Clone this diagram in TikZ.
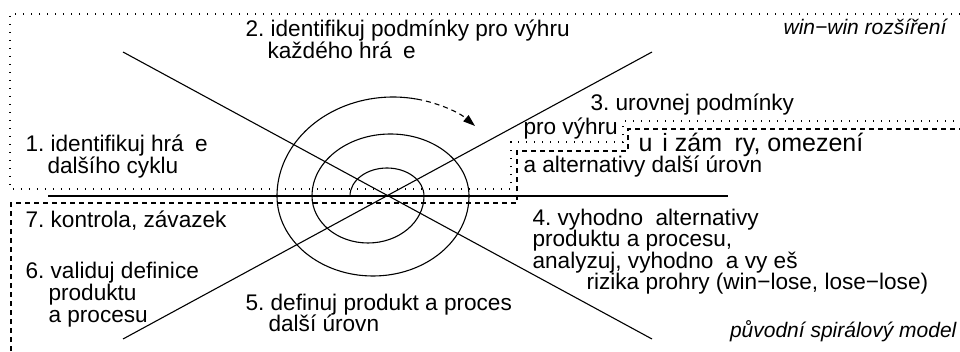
\documentclass[tikz,border=0pt]{standalone}
\usepackage{fontspec}
\setmainfont{Liberation Sans}
\usetikzlibrary{arrows.meta}
\frenchspacing
\begin{document}
\begin{tikzpicture}[x=1pt,y=1pt,line width=1.1pt,
  lbl/.style={anchor=base west, inner sep=0pt, font=\fontsize{22.6}{22.6}\selectfont},
  big/.style={anchor=base west, inner sep=0pt, font=\fontsize{25}{25}\selectfont},
  ital/.style={anchor=base east, inner sep=0pt, font=\fontsize{21}{21}\selectfont\itshape},
  dotb/.style={line width=1.1pt, dash pattern=on 1.2pt off 6.8pt},
  dashb/.style={line width=1.1pt, dash pattern=on 5pt off 4pt},
  tipb/.style={-{Triangle[length=12pt,width=8pt]}}
]
\useasboundingbox (0,0) rectangle (960,351);
% region boundaries
\draw[dotb] (960,337) -- (10,337) -- (10,162) -- (511,162) -- (511,209) -- (623,209) -- (623,230) -- (960,230);
\draw[dashb] (11,0) -- (11,148) -- (517,148) -- (517,200) -- (628,200) -- (628,222) -- (960,222);
% axes
\coordinate (h1) at (48,155);
\coordinate (h2) at (728,155);
\coordinate (a1) at (123,299);
\coordinate (a2) at (652,12);
\coordinate (b1) at (123,12);
\coordinate (b2) at (652,299);
\draw (h1) -- (h2);
\draw (a1) -- (a2);
\draw (b1) -- (b2);
% spiral
\coordinate (s0) at (350,155);
\draw (s0) arc[start angle=180,end angle=0,x radius=37pt,y radius=28pt]
  arc[start angle=0,end angle=-180,x radius=56pt,y radius=47pt]
  arc[start angle=180,end angle=0,x radius=78.5pt,y radius=62pt]
  arc[start angle=0,end angle=-180,x radius=96pt,y radius=80pt]
  arc[start angle=180,end angle=78,x radius=116pt,y radius=99pt] coordinate (s1);
\draw[dashb,tipb] (s1) arc[start angle=78,end angle=45,x radius=116pt,y radius=99pt];
% labels
\node[lbl] (l1a) at (25,199) {1. identifikuj hrá~\hspace{0.22em}e};
\node[lbl] (l1b) at (47,177.5) {dalšího cyklu};
\node[lbl] (l2a) at (245,314) {2. identifikuj podmínky pro výhru};
\node[lbl] (l2b) at (267,292.5) {každého hrá~\hspace{0.22em}e};
\node[lbl] (l3a) at (590,240.3) {3. urovnej podmínky};
\node[lbl] (l3b) at (523,216) {pro výhru};
\node[big] (l3c) at (638,199.3) {u~\hspace{0.12em}i zám~\hspace{0.22em}ry, omezení};
\node[lbl] (l3d) at (523,178) {a alternativy další úrovn};
\node[lbl] (l4a) at (532,126) {4. vyhodno\ \ alternativy};
\node[lbl] (l4b) at (532,104.5) {produktu a procesu,};
\node[lbl] (l4c) at (532,83) {analyzuj, vyhodno\ \ a vy eš};
\node[lbl] (l4d) at (586,61.5) {rizika prohry (win−lose, lose−lose)};
\node[lbl] (l5a) at (245,41) {5. definuj produkt a proces};
\node[lbl] (l5b) at (268,19.3) {další úrovn};
\node[lbl] (l6a) at (25,73) {6. validuj definice};
\node[lbl] (l6b) at (48,51) {produktu};
\node[lbl] (l6c) at (48,29) {a procesu};
\node[lbl] (l7) at (25,124) {7. kontrola, závazek};
\node[ital] (ww) at (947,316) {win−win rozšíření};
\node[ital] (ps) at (957,14) {původní spirálový model};
\end{tikzpicture}
\end{document}
